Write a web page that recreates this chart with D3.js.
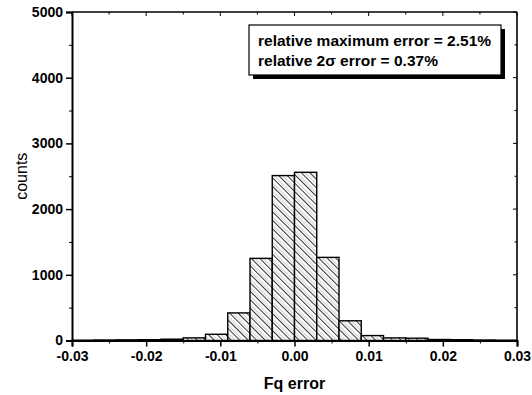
<!DOCTYPE html>
<html>
<head>
<meta charset="utf-8">
<script src="https://cdn.jsdelivr.net/npm/d3@7"></script>
<style>
  body { margin: 0; background: #fff; }
  svg { display: block; font-family: "Liberation Sans", Arial, sans-serif; }
</style>
</head>
<body>
<div id="chart"></div>
<script>
// histogram bins: lower edge of each bin (bin width 0.003)
const binLower = [-0.030, -0.027, -0.024, -0.021, -0.018, -0.015, -0.012, -0.009, -0.006, -0.003,
                   0.000,  0.003,  0.006,  0.009,  0.012,  0.015,  0.018,  0.021,  0.024,  0.027];
const binWidth = 0.003;
const counts = [5, 8, 10, 12, 20, 40, 95, 420, 1250, 2510,
                2560, 1265, 300, 75, 40, 35, 15, 12, 8, 5];

const xTicks = [-0.03, -0.02, -0.01, 0.00, 0.01, 0.02, 0.03];
const xMinorTicks = [-0.025, -0.015, -0.005, 0.005, 0.015, 0.025];
const yTicks = [0, 1000, 2000, 3000, 4000, 5000];
const yMinorTicks = [500, 1500, 2500, 3500, 4500];
const legendLines = ["relative maximum error = 2.51%", "relative 2σ error = 0.37%"];

const W = 532, H = 395;
const margin = { top: 12, right: 15, bottom: 54.5, left: 72 };
const width = W - margin.left - margin.right;
const height = H - margin.top - margin.bottom;

const svg = d3.select('#chart')
    .append('svg')
    .attr('width', W)
    .attr('height', H);

// hatch pattern (lines running top-left to bottom-right)
const defs = svg.append('defs');
const pat = defs.append('pattern')
    .attr('id', 'hatch')
    .attr('patternUnits', 'userSpaceOnUse')
    .attr('width', 6)
    .attr('height', 6)
    .attr('patternTransform', 'rotate(-45)');
pat.append('rect').attr('width', 6).attr('height', 6).attr('fill', '#fff');
pat.append('line')
    .attr('x1', 0).attr('y1', 0).attr('x2', 0).attr('y2', 6)
    .attr('stroke', '#000').attr('stroke-width', 1.6);
pat.append('line')
    .attr('x1', 3).attr('y1', 0).attr('x2', 3).attr('y2', 6)
    .attr('stroke', '#aaa').attr('stroke-width', 0.7);

const g = svg.append('g')
    .attr('transform', `translate(${margin.left},${margin.top})`);

const x = d3.scaleLinear().domain([-0.03, 0.03]).range([0, width]);
const y = d3.scaleLinear().domain([0, 5000]).range([height, 0]);

// bars
g.selectAll('.bar')
    .data(binLower.map((lo, i) => ({ lo, hi: lo + binWidth, n: counts[i] })))
    .enter()
    .append('rect')
    .attr('class', 'bar')
    .attr('x', d => x(d.lo))
    .attr('y', d => y(d.n))
    .attr('width', d => x(d.hi) - x(d.lo))
    .attr('height', d => y(0) - y(d.n))
    .attr('fill', 'url(#hatch)')
    .attr('stroke', '#000')
    .attr('stroke-width', 1.4);

// frame (top and right)
g.append('line').attr('x1', 0).attr('x2', width).attr('y1', 0).attr('y2', 0)
    .attr('stroke', '#000').attr('stroke-width', 1.6);
g.append('line').attr('x1', width).attr('x2', width).attr('y1', 0).attr('y2', height)
    .attr('stroke', '#000').attr('stroke-width', 1.6);

// inward ticks on top and right
g.selectAll('.top-tick')
    .data(xTicks.concat(xMinorTicks))
    .enter().append('line')
    .attr('x1', d => x(d)).attr('x2', d => x(d))
    .attr('y1', 0).attr('y2', d => xTicks.includes(d) ? 4 : 2.5)
    .attr('stroke', '#000').attr('stroke-width', 1);
g.selectAll('.right-tick')
    .data(yTicks.concat(yMinorTicks))
    .enter().append('line')
    .attr('y1', d => y(d)).attr('y2', d => y(d))
    .attr('x1', width).attr('x2', d => width - (yTicks.includes(d) ? 4 : 2.5))
    .attr('stroke', '#000').attr('stroke-width', 1);

// bottom axis
const xAxis = g.append('g')
    .attr('transform', `translate(0,${height})`)
    .call(d3.axisBottom(x).tickValues(xTicks).tickFormat(d => d3.format('.2f')(d).replace('−', '-')).tickSize(6).tickPadding(5));
g.append('g')
    .attr('transform', `translate(0,${height})`)
    .call(d3.axisBottom(x).tickValues(xMinorTicks).tickFormat('').tickSize(3))
    .select('.domain').remove();

// left axis
const yAxis = g.append('g')
    .call(d3.axisLeft(y).tickValues(yTicks).tickFormat(d3.format('d')).tickSize(6).tickPadding(3));
g.append('g')
    .call(d3.axisLeft(y).tickValues(yMinorTicks).tickFormat('').tickSize(3))
    .select('.domain').remove();

[xAxis, yAxis].forEach(a => {
    a.select('.domain').attr('stroke-width', 2).attr('stroke', '#000');
    a.selectAll('.tick line').attr('stroke-width', 1.5);
    a.selectAll('text')
        .style('font-size', '14px')
        .style('font-weight', 'bold')
        .style('font-family', '"Liberation Sans", Arial, sans-serif')
        .attr('fill', '#000');
});

// axis titles
svg.append('text')
    .attr('x', margin.left + x(0))
    .attr('y', 389)
    .attr('text-anchor', 'middle')
    .style('font-size', '16px')
    .style('font-weight', 'bold')
    .text('Fq error');

svg.append('text')
    .attr('transform', `translate(27,${margin.top + height / 2}) rotate(-90)`)
    .attr('text-anchor', 'middle')
    .style('font-size', '16px')
    .text('counts');

// legend box with drop shadow
const lg = svg.append('g');
const box = { x: 249, y: 25, w: 252, h: 50 };
lg.append('rect')
    .attr('x', box.x + 4).attr('y', box.y + 4)
    .attr('width', box.w).attr('height', box.h)
    .attr('fill', '#000');
lg.append('rect')
    .attr('x', box.x).attr('y', box.y)
    .attr('width', box.w).attr('height', box.h)
    .attr('fill', '#fff').attr('stroke', '#000').attr('stroke-width', 1.2);

lg.selectAll('.leg-text')
    .data(legendLines)
    .enter().append('text')
    .attr('class', 'leg-text')
    .attr('x', box.x + 9)
    .attr('y', (d, i) => box.y + 21 + i * 20)
    .style('font-size', '15.5px')
    .style('font-weight', 'bold')
    .text(d => d);
</script>
</body>
</html>
